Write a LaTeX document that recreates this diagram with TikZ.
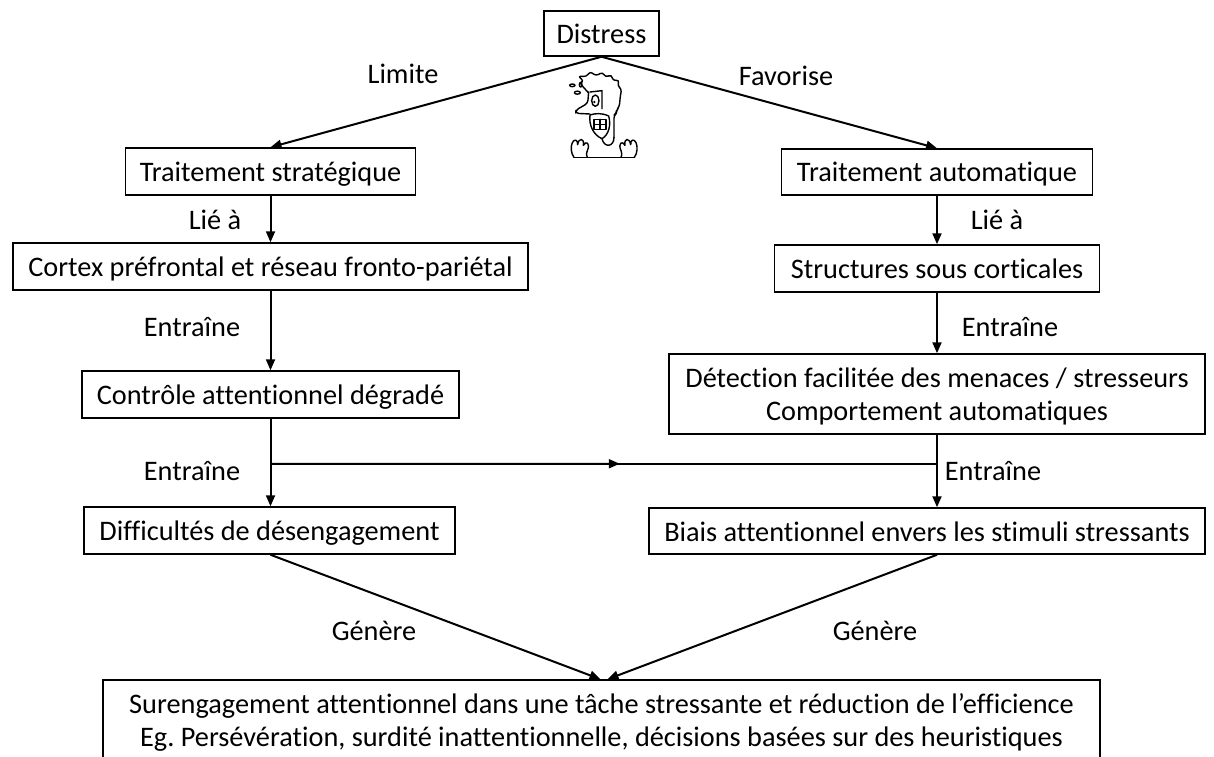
\documentclass[tikz,border=0pt]{standalone}
\usepackage{fontspec}
\setmainfont{Carlito}[Ligatures={NoCommon}]
\usetikzlibrary{arrows.meta,calc}
\newcommand\mystrut{\rule[-4pt]{0pt}{28pt}}
\frenchspacing
\begin{document}
\begin{tikzpicture}[x=1pt,y=-1pt,
  box/.style={draw, line width=1.5pt, inner sep=0pt, align=center, font=\fontsize{28.3}{33}\selectfont},
  lbl/.style={inner sep=0pt, font=\fontsize{28.3}{33}\selectfont},
  conn/.style={line width=2pt},
  arr/.style={conn, -{Triangle[length=11pt,width=9pt]}},
  cart/.style={line width=1.4pt, line join=round, line cap=round}]
\useasboundingbox (0,0) rectangle (1214,756);
% boxes
\node[box, minimum width=115pt, minimum height=45pt] (dist) at (601.5,33.5) {\mystrut Distress};
\node[box, minimum width=290pt, minimum height=47pt] (ttS) at (270.5,171.5) {\mystrut Traitement stratégique};
\node[box, minimum width=311pt, minimum height=46pt] (ttA) at (937,172) {\mystrut Traitement automatique};
\node[box, minimum width=515pt, minimum height=47pt] (cortex) at (270.5,266.5) {\mystrut Cortex préfrontal et réseau fronto-pariétal};
\node[box, minimum width=325pt, minimum height=47pt] (struct) at (937,268.5) {\mystrut Structures sous corticales};
\node[box, minimum width=377pt, minimum height=47pt] (ctrl) at (270.5,394.5) {\mystrut Contrôle attentionnel dégradé};
\node[box, minimum width=536pt, minimum height=80pt] (det) at (937,394) {\mystrut Détection facilitée des menaces / stresseurs\\\mystrut Comportement automatiques};
\node[box, minimum width=371pt, minimum height=47pt] (diff) at (269.5,530.5) {\mystrut Difficultés de désengagement};
\node[box, minimum width=556pt, minimum height=46pt] (biais) at (927,531) {\mystrut Biais attentionnel envers les stimuli stressants};
\node[box, minimum width=997pt, minimum height=80pt] (bot) at (601.5,720) {\mystrut Surengagement attentionnel dans une tâche stressante et réduction de l’efficience\\\mystrut Eg. Persévération, surdité inattentionnelle, décisions basées sur des heuristiques};
% labels
\node[lbl] (lLim) at (403,73) {\mystrut Limite};
\node[lbl] (lFav) at (786,75) {\mystrut Favorise};
\node[lbl] (lLie1) at (215,219) {\mystrut Lié à};
\node[lbl] (lLie2) at (997,219) {\mystrut Lié à};
\node[lbl] (lEn1) at (192,326) {\mystrut Entraîne};
\node[lbl] (lEn2) at (1010,326) {\mystrut Entraîne};
\node[lbl] (lEn3) at (192,470) {\mystrut Entraîne};
\node[lbl] (lEn4) at (993,470) {\mystrut Entraîne};
\node[lbl] (lGen1) at (374,630) {\mystrut Génère};
\node[lbl] (lGen2) at (875,630) {\mystrut Génère};
% connectors
\draw[arr] (dist.south) -- (ttS.north);
\draw[arr] (dist.south) -- (ttA.north);
\draw[arr] (ttS.south) -- (cortex.north);
\draw[arr] (cortex.south) -- (ctrl.north);
\draw[arr] (ctrl.south) -- (ctrl.south |- diff.north);
\draw[arr] (ttA.south) -- (struct.north);
\draw[arr] (struct.south) -- (det.north);
\draw[arr] (det.south) -- (det.south |- biais.north);
\coordinate (jl) at ($(ctrl.south)+(0,45)$);
\coordinate (jr) at (det.south |- jl);
\draw[arr] (jl) -- ($(jl)!0.524!(jr)$);
\draw[conn] ($(jl)!0.5!(jr)$) -- (jr);
\draw[arr] (ctrl.south |- diff.south) -- ([xshift=-1pt]bot.north);
\draw[arr] (biais.south -| det.south) -- ([xshift=6pt]bot.north);
% cartoon
\begin{scope}[shift={(540,60)}, scale=0.3333]
\draw[cart, rounded corners=3pt] (145,98) -- (118,68) -- (132,64) -- (114,48) -- (140,50) -- (150,34) -- (168,48) -- (188,36) -- (196,52) -- (215,44) -- (218,62) -- (238,60) -- (232,78) -- (245,86) -- (241,108) -- (238,140) -- (230,150) -- (229,160) -- (222,166) -- (222,232);
\draw[cart] (222,232) .. controls (222,262) and (192,264) .. (186,236);
\draw[cart, rounded corners=3pt] (146,96) -- (143,130) -- (108,150) -- (107,160) -- (150,162);
\draw[cart] (150,165) .. controls (146,195) and (160,225) .. (186,236) .. controls (206,225) and (214,195) .. (206,168) .. controls (185,158) and (165,160) .. (150,165);
\draw[cart] (162,178) rectangle (198,208);
\draw[cart] (180,178) -- (180,208) (162,193) -- (198,193);
\draw[cart] (150,96) -- (186,92) -- (186,146);
\draw[cart] (166,122) ellipse (11 and 17);
\fill (163,126) circle (4);
\draw[cart] (97,76) ellipse (8 and 4);
\draw[cart] (112,98) ellipse (9 and 4.5);
\draw[cart] (122,74) ellipse (4 and 7);
% hands
\draw[cart] (102,292) .. controls (92,280) and (92,258) .. (97,248) .. controls (102,236) and (114,238) .. (113,254) .. controls (116,232) and (134,234) .. (130,256) .. controls (138,240) and (152,250) .. (142,272) .. controls (138,282) and (140,290) .. (142,292);
\draw[cart] (283,292) .. controls (293,280) and (293,258) .. (288,248) .. controls (283,236) and (271,238) .. (272,254) .. controls (269,232) and (251,234) .. (255,256) .. controls (247,240) and (233,250) .. (243,272) .. controls (247,282) and (245,290) .. (243,292);
\draw[cart] (102,292) -- (283,292);
\end{scope}
\end{tikzpicture}
\end{document}
